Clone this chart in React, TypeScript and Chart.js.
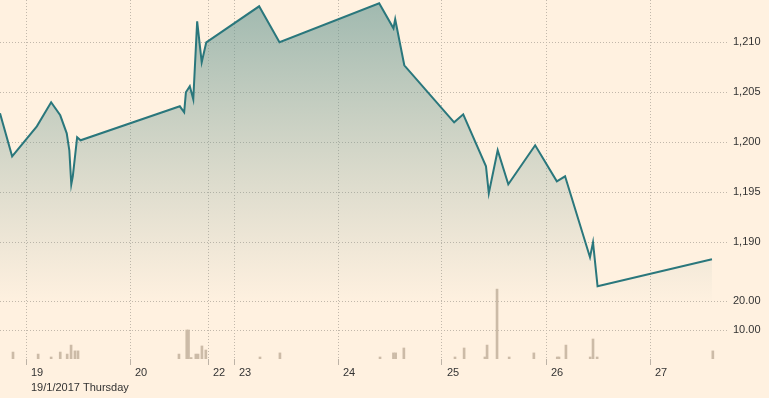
import React, { useEffect, useRef } from 'react';
import { Chart, registerables } from 'chart.js';

Chart.register(...registerables);

// Day ticks on a compressed trading-time axis (units: hours from 19 Jan open)
const dayTickPositions = [0, 24, 42, 48, 72, 96, 120, 144];
const dayTickLabels = ['19', '20', '22', '23', '24', '25', '26', '27'];
const dateCaption = '19/1/2017 Thursday';

const priceTimes = [
  -6.0, -3.2, 2.5, 5.8, 7.9, 9.4, 10.0, 10.45, 10.8, 11.8, 12.6,
  35.5, 36.5, 36.9, 37.8, 38.6, 39.5, 40.55, 41.6, 53.8, 58.5,
  81.5, 84.8, 85.2, 87.3, 98.8, 100.9, 106.15, 106.8, 108.85, 111.3,
  117.5, 122.5, 124.4, 130.15, 130.85, 131.9, 158.3,
];
const prices = [
  1202.9, 1198.6, 1201.6, 1204.0, 1202.7, 1200.9, 1199.2, 1195.8, 1196.6, 1200.5, 1200.2,
  1203.6, 1203.0, 1205.0, 1205.6, 1204.3, 1212.1, 1208.0, 1210.0, 1213.6, 1210.0,
  1213.9, 1211.4, 1212.3, 1207.7, 1202.0, 1202.8, 1197.6, 1194.9, 1199.2, 1195.8,
  1199.7, 1196.1, 1196.6, 1188.5, 1190.0, 1185.6, 1188.3,
];

const volumeTimes = [
  -3.0, 2.8, 5.8, 7.9, 9.5, 10.4, 11.3, 12.0,
  35.3, 37.1, 37.5, 38.1, 39.2, 39.7, 40.6, 41.5,
  54.0, 58.6, 81.7, 84.8, 85.3, 87.2,
  99.0, 101.1, 105.9, 106.4, 108.7, 111.5,
  117.2, 122.6, 123.0, 124.6, 130.2, 130.85, 131.8, 158.5,
];
const volumes = [
  2.4, 1.7, 0.7, 2.4, 1.7, 4.8, 2.8, 2.8,
  1.7, 10.0, 10.0, 0.5, 1.7, 1.7, 4.5, 3.1,
  0.7, 2.1, 0.7, 2.1, 2.1, 3.8,
  0.7, 3.8, 0.7, 4.8, 24.1, 0.7,
  2.1, 0.7, 0.7, 4.8, 0.7, 6.9, 0.7, 2.8,
];

const priceTicks = [1190, 1195, 1200, 1205, 1210];
const volumeTicks = [10, 20];

const BG = '#fff1e0';
const GRID = '#c2b8ab';
const TEXT = '#333333';
const LINE = '#2a777c';
const BAR = '#ccbba7';
const FONT = { family: '"Liberation Sans", Arial, sans-serif', size: 11, lineHeight: 1.34 };
const RIGHT_AXIS_WIDTH = 41;

export default function App() {
  const canvasRef = useRef<HTMLCanvasElement | null>(null);

  useEffect(() => {
    const canvas = canvasRef.current;
    if (!canvas) return;

    const bgPlugin = {
      id: 'bg',
      beforeDraw(chart: any) {
        const c = chart.ctx;
        c.save();
        c.fillStyle = BG;
        c.fillRect(0, 0, chart.width, chart.height);
        c.restore();
      },
    };

    // Let the volume axis share the same label column as the price axis.
    const overlayAxisPlugin = {
      id: 'overlayAxis',
      afterLayout(chart: any) {
        const s = chart.scales.yv;
        if (!s) return;
        s.left = chart.chartArea.right;
        s.right = s.left + RIGHT_AXIS_WIDTH;
        s.width = RIGHT_AXIS_WIDTH;
        s._labelItems = null;
        s._gridLineItems = null;
      },
    };

    const chart = new Chart(canvas, {
      type: 'line',
      data: {
        datasets: [
          {
            type: 'line',
            label: 'Price',
            data: priceTimes.map((x, i) => ({ x, y: prices[i] })),
            xAxisID: 'x',
            yAxisID: 'y',
            borderColor: LINE,
            borderWidth: 2,
            pointRadius: 0,
            tension: 0,
            fill: 'start',
            order: 0,
            backgroundColor: (ctx: any) => {
              const { chart } = ctx;
              const area = chart.chartArea;
              if (!area) return 'rgba(0,0,0,0)';
              const g = chart.ctx.createLinearGradient(0, area.top, 0, area.top + 305);
              g.addColorStop(0, 'rgba(100,150,145,0.62)');
              g.addColorStop(1, 'rgba(130,160,150,0)');
              return g;
            },
          } as any,
          {
            type: 'bar',
            label: 'Volume',
            data: volumeTimes.map((x, i) => ({ x, y: volumes[i] })),
            xAxisID: 'x',
            yAxisID: 'yv',
            backgroundColor: BAR,
            barThickness: 2,
            order: 1,
          } as any,
        ],
      },
      options: {
        animation: false,
        responsive: false,
        devicePixelRatio: 1,
        layout: { padding: 0 },
        plugins: { legend: { display: false }, tooltip: { enabled: false } },
        scales: {
          x: {
            type: 'linear',
            position: 'bottom',
            min: -6,
            max: 162,
            offset: false,
            grid: {
              color: GRID,
              offset: false,
              drawTicks: true,
              tickLength: 6,
              tickColor: '#bdb3a7',
              tickBorderDash: [],
            },
            border: { display: false, dash: [1, 2] },
            ticks: {
              align: 'start',
              labelOffset: 5,
              padding: 1,
              maxRotation: 0,
              autoSkip: false,
              color: TEXT,
              font: FONT,
              callback: (v: any, i: number) => {
                const idx = dayTickPositions.indexOf(Number(v));
                const lab = idx >= 0 ? dayTickLabels[idx] : '';
                return i === 0 ? [lab, dateCaption] : lab;
              },
            },
            afterBuildTicks: (s: any) => {
              s.ticks = dayTickPositions.map((v) => ({ value: v }));
            },
            afterFit: (s: any) => {
              s.height = 39;
              s.paddingLeft = 0;
              s.paddingRight = 0;
            },
          },
          yv: {
            type: 'linear',
            position: 'right',
            weight: 0,
            min: 0,
            max: 123.8,
            grid: { color: GRID, drawTicks: false },
            border: { display: false, dash: [1, 2] },
            ticks: {
              padding: 5,
              color: TEXT,
              font: FONT,
              callback: (v: any) => Number(v).toFixed(2),
            },
            afterBuildTicks: (s: any) => {
              s.ticks = volumeTicks.map((v) => ({ value: v }));
            },
            afterFit: (s: any) => {
              s.width = 0;
              s.paddingTop = 0;
              s.paddingBottom = 0;
            },
          },
          y: {
            type: 'linear',
            position: 'right',
            weight: 1,
            min: 1178.33,
            max: 1214.23,
            grid: { color: GRID, drawTicks: false },
            border: { display: false, dash: [1, 2] },
            ticks: {
              padding: 5,
              color: TEXT,
              font: FONT,
              callback: (v: any) => Number(v).toLocaleString('en-US'),
            },
            afterBuildTicks: (s: any) => {
              s.ticks = priceTicks.map((v) => ({ value: v }));
            },
            afterFit: (s: any) => {
              s.width = RIGHT_AXIS_WIDTH;
              s.paddingTop = 0;
              s.paddingBottom = 0;
            },
          },
        },
      } as any,
      plugins: [bgPlugin, overlayAxisPlugin],
    });

    return () => chart.destroy();
  }, []);

  return (
    <div style={{ position: 'fixed', left: 0, top: 0, width: 769, height: 398, background: BG }}>
      <canvas ref={canvasRef} width={769} height={398} style={{ display: 'block', width: 769, height: 398 }} />
    </div>
  );
}
